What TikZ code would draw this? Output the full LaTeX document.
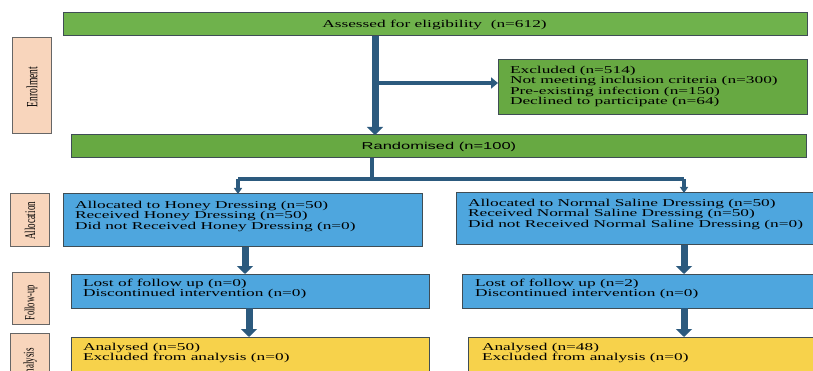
\documentclass[tikz,border=0pt]{standalone}
\usepackage{fontspec}
\setmainfont{Liberation Serif}
\newfontfamily\sansf{Liberation Sans}
\usepackage{graphicx}
\usetikzlibrary{arrows.meta}
\definecolor{gA}{HTML}{6FB24C}
\definecolor{gB}{HTML}{67A942}
\definecolor{bl}{HTML}{4EA6DE}
\definecolor{yl}{HTML}{F7D24B}
\definecolor{pc}{HTML}{F8D5BC}
\definecolor{bd}{HTML}{3F4D55}
\definecolor{ar}{HTML}{2C5A7E}
\newcommand{\sx}[1]{\scalebox{1.65}[1]{#1}}
\newcommand{\vlab}[1]{\scalebox{1.65}[1]{\rotatebox{90}{#1}}}
\tikzset{
  box/.style={draw=bd, line width=1pt, inner sep=0pt, outer sep=0pt},
  txt/.style={inner sep=0pt, outer sep=0pt, anchor=north west, font=\fontsize{10.5}{10.4}\selectfont},
  lab/.style={box, fill=pc, draw=gray!80!black},
  bigarr/.style={draw=ar, line width=7pt, -{Triangle[width=16pt,length=8pt]}},
  midarr/.style={draw=ar, line width=4.5pt, -{Triangle[width=11pt,length=7pt]}},
  thin/.style={draw=ar, line width=3.5pt},
  smallarr/.style={draw=ar, line width=3.5pt, -{Triangle[width=8pt,length=6pt]}},
}
\begin{document}
\begin{tikzpicture}[x=1pt,y=-1pt]
\useasboundingbox (0,0) rectangle (813,371);
% boxes
\node[box, fill=gA, minimum width=744, minimum height=23] (assess) at (435,24.5) {};
\node[inner sep=0pt] (assesst) at (434.5,25) {\fontsize{10.5}{12}\selectfont\sx{Assessed for eligibility~ (n=612)}};
\node[box, fill=gB, minimum width=309, minimum height=55] (excl) at (652.5,87.5) {};
\node[txt, font=\fontsize{10.5}{10.2}\selectfont] (exclt) at (510,66.3) {\sx{\begin{tabular}{@{}l@{}}Excluded (n=514)\\Not meeting inclusion criteria (n=300)\\Pre-existing infection (n=150)\\Declined to participate (n=64)\end{tabular}}};
\node[box, fill=gB, minimum width=735, minimum height=23] (rand) at (438.5,146.5) {};
\node[inner sep=0pt] (randt) at (439,147) {\sansf\fontsize{10}{12}\selectfont\sx{Randomised (n=100)}};
% allocation
\node[box, fill=bl, minimum width=359, minimum height=53] (honeyA) at (242.5,220.5) {};
\node[txt] (honeyAt) at (75,201) {\sx{\begin{tabular}{@{}l@{}}Allocated to Honey Dressing (n=50)\\Received Honey Dressing (n=50)\\Did not Received Honey Dressing (n=0)\end{tabular}}};
\node[box, fill=bl, minimum width=360, minimum height=52] (salA) at (636,219) {};
\node[txt] (salAt) at (468,199) {\sx{\begin{tabular}{@{}l@{}}Allocated to Normal Saline Dressing (n=50)\\Received Normal Saline Dressing (n=50)\\Did not Received Normal Saline Dressing (n=0)\end{tabular}}};
% follow-up
\node[box, fill=bl, minimum width=358, minimum height=34] (honeyF) at (250,291) {};
\node[txt] (honeyFt) at (83,279) {\sx{\begin{tabular}{@{}l@{}}Lost of follow up (n=0)\\Discontinued intervention (n=0)\end{tabular}}};
\node[box, fill=bl, minimum width=354, minimum height=34] (salF) at (639,291) {};
\node[txt] (salFt) at (475,279) {\sx{\begin{tabular}{@{}l@{}}Lost of follow up (n=2)\\Discontinued intervention (n=0)\end{tabular}}};
% analysis
\node[box, fill=yl, minimum width=358, minimum height=50] (honeyAn) at (250,362) {};
\node[txt] (honeyAnt) at (83,343) {\sx{\begin{tabular}{@{}l@{}}Analysed (n=50)\\Excluded from analysis (n=0)\end{tabular}}};
\node[box, fill=yl, minimum width=350, minimum height=50] (salAn) at (643,362) {};
\node[txt] (salAnt) at (482,343) {\sx{\begin{tabular}{@{}l@{}}Analysed (n=48)\\Excluded from analysis (n=0)\end{tabular}}};
% side labels
\node[lab, minimum width=39, minimum height=96] (enrol) at (31.5,86) {};
\node[inner sep=0pt] (enrolt) at (32,87) {\fontsize{9.5}{11}\selectfont\vlab{Enrolment}};
\node[lab, minimum width=39, minimum height=53] (alloc) at (29.5,220.5) {};
\node[inner sep=0pt] (alloct) at (30,221) {\fontsize{9}{11}\selectfont\vlab{Allocation}};
\node[lab, minimum width=37, minimum height=52] (follow) at (30.5,298) {};
\node[inner sep=0pt] (followt) at (31,303) {\fontsize{8.5}{11}\selectfont\vlab{Follow-up}};
\node[lab, minimum width=39, minimum height=50] (anal) at (29.5,358) {};
\node[inner sep=0pt] (analt) at (30,364) {\fontsize{9}{11}\selectfont\vlab{Analysis}};
% connectors
\coordinate (cTop) at (375,83);
\coordinate (cSplit) at (372,179);
\coordinate (cL) at (238,179);
\coordinate (cR) at (684,179);
\coordinate (xA) at (245,0);
\coordinate (xB) at (249,0);
\draw[bigarr] (assess.south -| cTop) -- (rand.north -| cTop);
\draw[midarr] (cTop) -- (excl.west |- cTop);
\draw[thin] (rand.south -| cSplit) -- (cSplit);
\draw[thin] (cL) -- (cR);
\draw[smallarr] (cL) -- (honeyA.north -| cL);
\draw[smallarr] (cR) -- (salA.north -| cR);
\draw[bigarr] (honeyA.south -| xA) -- (honeyF.north -| xA);
\draw[bigarr] (salA.south -| cR) -- (salF.north -| cR);
\draw[bigarr] (honeyF.south -| xB) -- (honeyAn.north -| xB);
\draw[bigarr] (salF.south -| cR) -- (salAn.north -| cR);
\end{tikzpicture}
\end{document}
